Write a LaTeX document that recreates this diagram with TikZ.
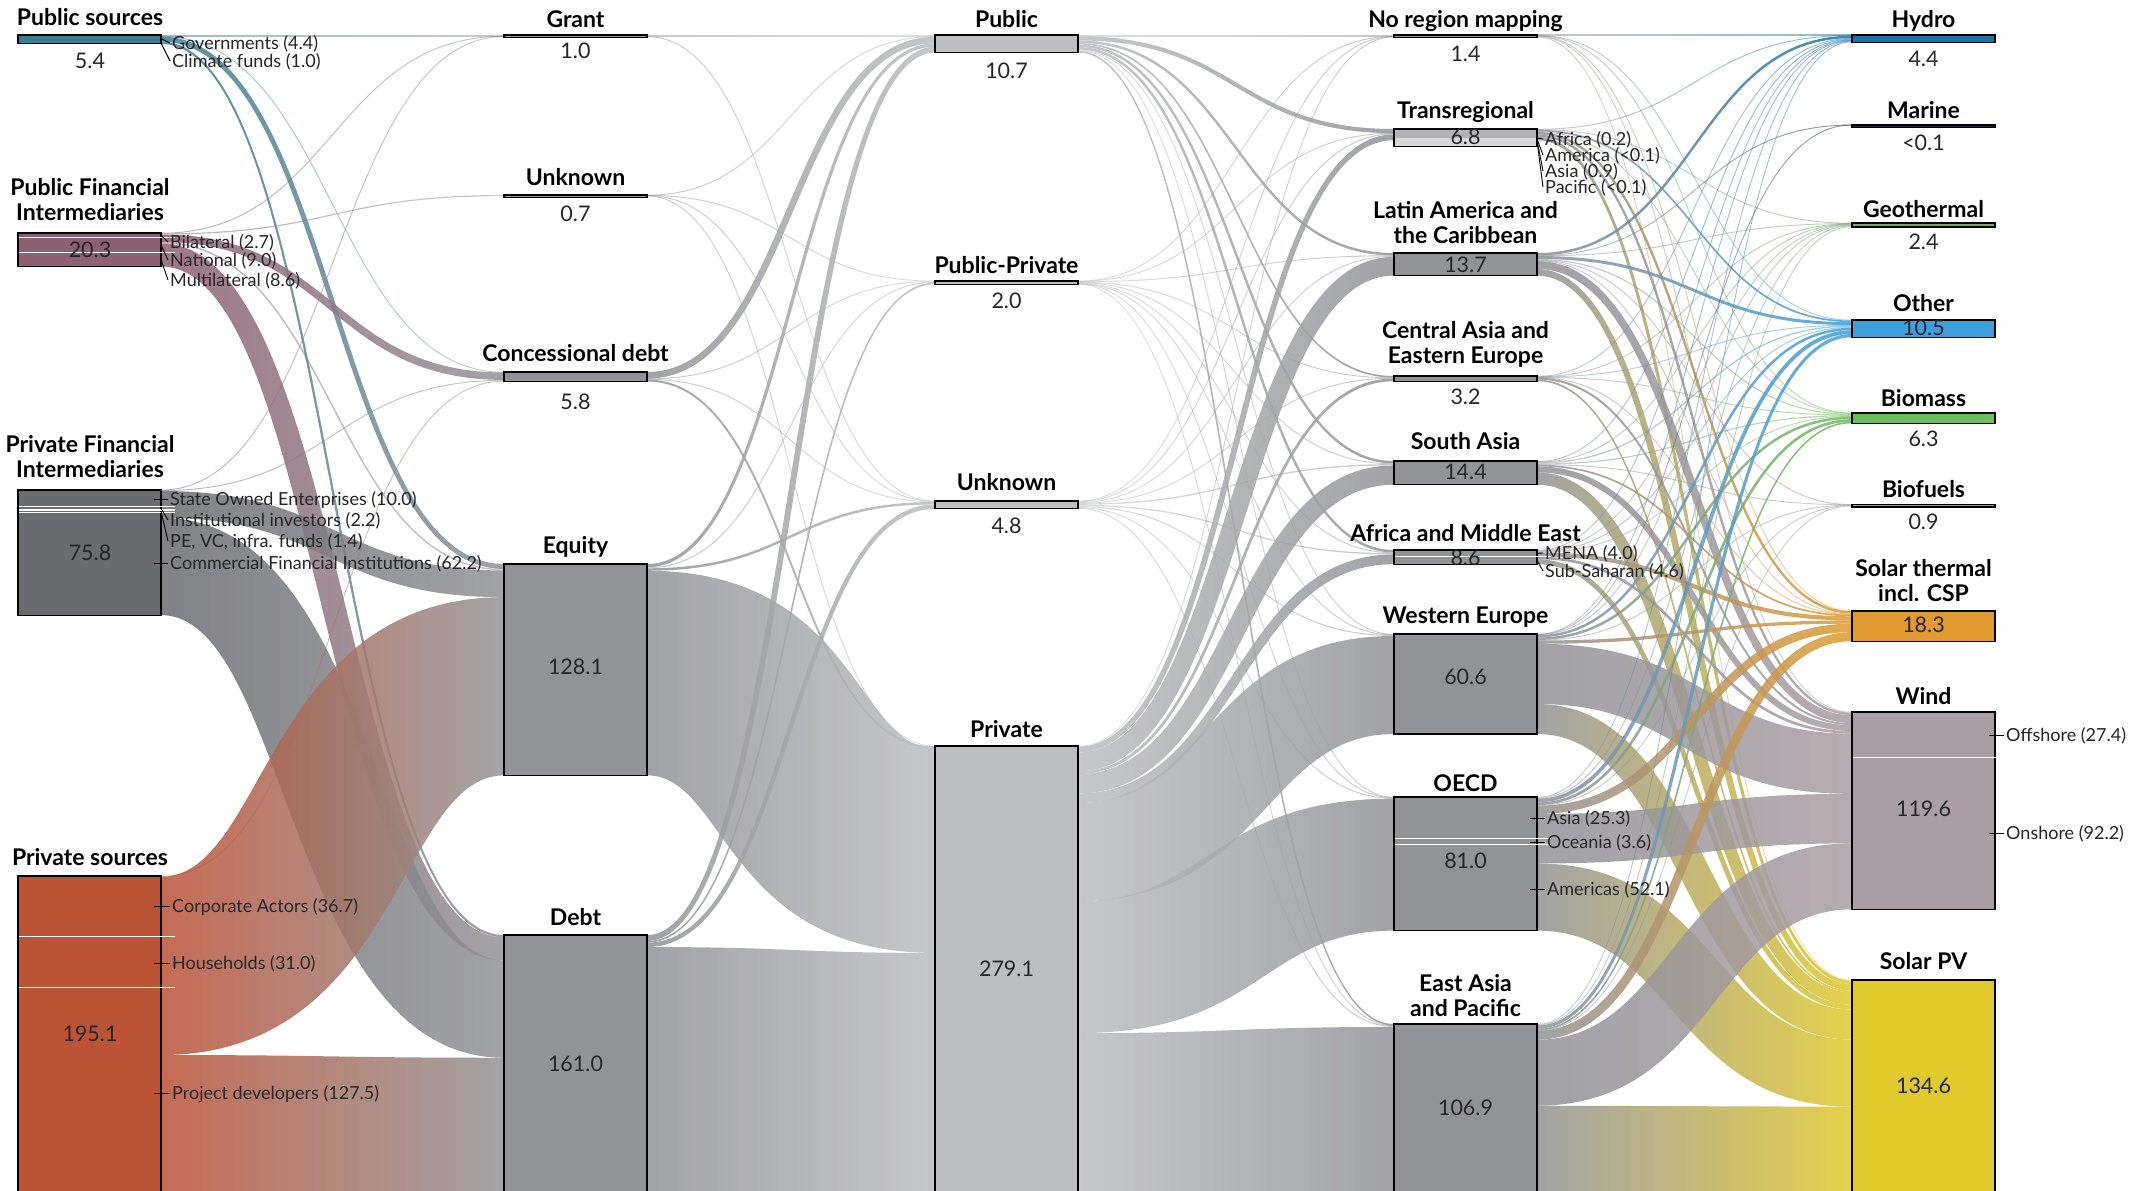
\documentclass[tikz,border=0pt]{standalone}
\usepackage{fontspec}
\setmainfont{Lato}
\usetikzlibrary{calc}
\pgfdeclarelayer{bg}
\pgfdeclarelayer{flows}
\pgfsetlayers{bg,flows,main}

\definecolor{cPub}{HTML}{3F7E90}
\definecolor{cPFI}{HTML}{8D6172}
\definecolor{cPFN}{HTML}{6B6C70}
\definecolor{cPRS}{HTML}{BC5335}
\definecolor{gTwo}{HTML}{929397}
\definecolor{gThree}{HTML}{BDBEC0}
\definecolor{gFour}{HTML}{929397}
\definecolor{cHydro}{HTML}{1B75A9}
\definecolor{cMarine}{HTML}{1E2A3A}
\definecolor{cGeo}{HTML}{7DA770}
\definecolor{cOther}{HTML}{3DA0DC}
\definecolor{cBiomass}{HTML}{6DBE5D}
\definecolor{cBiofuel}{HTML}{9B9B9B}
\definecolor{cSolTh}{HTML}{E09A2F}
\definecolor{cWind}{HTML}{A99EA3}
\definecolor{cPV}{HTML}{E2C92C}

% value-to-length scale (pt per bn USD)
\newcommand\FK{1.65}
% global key/value store
\newcommand\sv[3]{\expandafter\xdef\csname#1@#2\endcsname{#3}}
\newcommand\nv[2]{\csname#1@#2\endcsname}

% box: name, x-left, top, value, fill, outgoing flow colour, incoming flow colour
\newcommand\mkbox[7]{%
  \sv{XL}{#1}{#2}%
  \sv{XR}{#1}{\fpeval{#2+143}}%
  \sv{TP}{#1}{#3}%
  \sv{OO}{#1}{0}\sv{IO}{#1}{0}%
  \sv{CO}{#1}{#6}\sv{CI}{#1}{#7}%
  \edef\bxH{\fpeval{max(#4*\FK,2.5)}}%
  \node[box, fill=#5, minimum height=\bxH pt, anchor=north west] (#1) at (#2,#3) {};%
}

% ribbon from the right side of one box to the left side of another,
% stacked under the ribbons already attached to either box
\newcommand\fflow[3]{%
  \edef\flW{\fpeval{\nv{XL}{#2}-\nv{XR}{#1}}}%
  \edef\flH{\fpeval{#3*\FK}}%
  \edef\flT{\fpeval{max(\flH,0.9)}}%
  \edef\flA{\nv{OO}{#1}}\edef\flB{\nv{IO}{#2}}%
  \edef\flYa{\fpeval{\nv{TP}{#1}+\flA+\flH/2}}%
  \edef\flYb{\fpeval{\nv{TP}{#2}+\flB+\flH/2}}%
  \edef\flS{\fpeval{2*(\flYb-\flYa)/\flW}}%
  \edef\flD{\fpeval{(\flT/2)*\flS/(1+sqrt(1+\flS*\flS))*4/3}}%
  \edef\flUa{\fpeval{round(-(\flA+\flH/2-\flT/2),3)}}%
  \edef\flLa{\fpeval{round(-(\flA+\flH/2+\flT/2),3)}}%
  \edef\flUb{\fpeval{round(-(\flB+\flH/2-\flT/2),3)}}%
  \edef\flLb{\fpeval{round(-(\flB+\flH/2+\flT/2),3)}}%
  \edef\flCuA{\fpeval{round(\flW/2+\flD,3)}}%
  \edef\flClA{\fpeval{round(\flW/2-\flD,3)}}%
  \edef\flCuB{\fpeval{round(-\flW/2+\flD,3)}}%
  \edef\flClB{\fpeval{round(-\flW/2-\flD,3)}}%
  \edef\flO{\fpeval{#3<1 ? 0.5 : 0.85}}%
  \edef\flCa{\nv{CO}{#1}}\edef\flCb{\nv{CI}{#2}}%
  \begin{pgfonlayer}{flows}
  \shade[left color=\flCa, right color=\flCb, fill opacity=\flO]
    ([yshift=\flUa pt]#1.north east)
      .. controls ([xshift=\flCuA pt,yshift=\flUa pt]#1.north east)
      and ([xshift=\flCuB pt,yshift=\flUb pt]#2.north west)
      .. ([yshift=\flUb pt]#2.north west)
    -- ([yshift=\flLb pt]#2.north west)
      .. controls ([xshift=\flClB pt,yshift=\flLb pt]#2.north west)
      and ([xshift=\flClA pt,yshift=\flLa pt]#1.north east)
      .. ([yshift=\flLa pt]#1.north east) -- cycle;
  \end{pgfonlayer}%
  \sv{OO}{#1}{\fpeval{\flA+\flH}}\sv{IO}{#2}{\fpeval{\flB+\flH}}%
}
% all ribbons leaving one box: source, {target/value, ...}
\newcommand\fflows[2]{%
  \foreach \tgt/\amt in {#2} {\edef\flNext{\noexpand\fflow{#1}{\tgt}{\amt}}\flNext}%
}

\begin{document}
\begin{tikzpicture}[x=1pt,y=-1pt,
  box/.style={draw=black,line width=1.1pt,minimum width=143pt,inner sep=0pt,outer sep=0pt},
  ttl/.style={font=\fontsize{23}{25}\selectfont\bfseries,inner sep=0pt,text height=16.5pt,text depth=0pt},
  ttltwo/.style={font=\fontsize{23}{25}\selectfont\bfseries,inner sep=0pt,align=center},
  val/.style={font=\fontsize{21.5}{22}\selectfont,text=black!85,inner sep=0pt,text height=15.5pt,text depth=0pt},
  sub/.style={font=\fontsize{18}{18}\selectfont,text=black!85,inner sep=0pt,anchor=west,text height=13pt,text depth=0pt},
  tick/.style={draw=black,line width=0.9pt},
  sep/.style={draw=white,line width=1.4pt}]

\begin{pgfonlayer}{bg}
  \fill[white] (0,0) rectangle (2153,1191);
\end{pgfonlayer}

% ---- boxes ----
% sources
\mkbox{psrc}{18}{35}{5.4}{cPub}{cPub}{cPub}
\mkbox{pfi}{18}{233}{20.3}{cPFI}{cPFI}{cPFI}
\mkbox{pfin}{18}{490}{75.8}{cPFN}{cPFN}{cPFN}
\mkbox{prsrc}{18}{876}{195.1}{cPRS}{cPRS}{cPRS}
% instruments
\mkbox{grant}{504}{35}{1.0}{gTwo}{gTwo}{gTwo}
\mkbox{unktwo}{504}{195}{0.7}{gTwo}{gTwo}{gTwo}
\mkbox{conc}{504}{372}{5.8}{gTwo}{gTwo}{gTwo}
\mkbox{equity}{504}{564}{128.1}{gTwo}{gTwo}{gTwo}
\mkbox{debt}{504}{935}{161.0}{gTwo}{gTwo}{gTwo}
% public / private
\mkbox{pub}{935}{35}{10.7}{gThree}{gThree}{gThree}
\mkbox{pubpriv}{935}{281}{2.0}{gThree}{gThree}{gThree}
\mkbox{unkthree}{935}{501}{4.8}{gThree}{gThree}{gThree}
\mkbox{priv}{935}{746}{279.1}{gThree}{gThree}{gThree}
% regions
\mkbox{noreg}{1394}{35}{1.4}{gFour}{gFour}{gFour}
\mkbox{trans}{1394}{129}{10.4}{gFour!70}{gFour}{gFour}
\mkbox{latam}{1394}{253}{13.7}{gFour}{gFour}{gFour}
\mkbox{caee}{1394}{376}{3.2}{gFour}{gFour}{gFour}
\mkbox{sasia}{1394}{461}{14.4}{gFour}{gFour}{gFour}
\mkbox{ame}{1394}{550}{8.6}{gFour}{gFour}{gFour}
\mkbox{weur}{1394}{634}{60.6}{gFour}{gFour}{gFour}
\mkbox{oecd}{1394}{797}{81.0}{gFour}{gFour}{gFour}
\mkbox{eap}{1394}{1024}{106.9}{gFour}{gFour}{gFour}
% technologies
\mkbox{hydro}{1852}{35}{4.4}{cHydro}{cHydro}{cHydro}
\mkbox{marine}{1852}{125}{0.05}{cMarine}{cMarine}{cMarine}
\mkbox{geo}{1852}{223}{2.4}{cGeo}{cGeo}{cGeo}
\mkbox{other}{1852}{320}{10.5}{cOther}{cOther}{cOther}
\mkbox{biomass}{1852}{413}{6.3}{cBiomass}{cBiomass}{cBiomass}
\mkbox{biofuel}{1852}{504.5}{0.9}{cBiofuel}{cBiofuel}{cBiofuel}
\mkbox{solth}{1852}{611}{18.3}{cSolTh}{cSolTh}{cSolTh}
\mkbox{wind}{1852}{712}{119.6}{cWind}{cWind}{cWind}
\mkbox{pv}{1852}{980}{134.6}{cPV}{cPV}{cPV}

% light lower half of the transregional box
\fill[gThree!60] ([xshift=0.6pt,yshift=-9pt]trans.north west) rectangle ([xshift=-0.6pt,yshift=0.6pt]trans.south east);

% ---- flows: sources -> instruments ----
\fflows{psrc}{grant/0.7, conc/0.3, equity/3.0, debt/1.4}
\fflows{pfi}{grant/0.2, unktwo/0.7, conc/4.5, equity/0.9, debt/14.0}
\fflows{pfin}{grant/0.1, conc/0.5, equity/16.2, debt/59.0}
\fflows{prsrc}{conc/0.5, equity/108.0, debt/86.6}
% ---- instruments -> public / private ----
\fflows{grant}{pub/0.9, unkthree/0.1}
\fflows{unktwo}{pub/0.2, pubpriv/0.1, unkthree/0.2, priv/0.2}
\fflows{conc}{pub/4.0, pubpriv/0.3, unkthree/0.3, priv/1.2}
\fflows{equity}{pub/2.0, pubpriv/0.6, unkthree/1.5, priv/124.0}
\fflows{debt}{pub/3.6, pubpriv/1.0, unkthree/2.7, priv/153.7}
% ---- public / private -> regions ----
\fflows{pub}{noreg/0.8, trans/2.5, latam/1.5, caee/1.0, sasia/1.5, ame/1.5, weur/0.5, oecd/0.4, eap/1.0}
\fflows{pubpriv}{noreg/0.1, trans/0.2, latam/0.3, caee/0.2, sasia/0.4, ame/0.4, weur/0.1, oecd/0.1, eap/0.2}
\fflows{unkthree}{noreg/0.1, trans/0.6, latam/0.5, caee/0.3, sasia/0.8, ame/0.8, weur/0.6, oecd/0.5, eap/0.6}
\fflows{priv}{noreg/0.4, trans/3.5, latam/11.4, caee/1.7, sasia/11.7, ame/5.9, weur/59.4, oecd/80.0, eap/105.1}
% ---- regions -> technologies ----
\fflows{noreg}{hydro/0.1, other/0.3, biomass/0.1, solth/0.1, wind/0.4, pv/0.4}
\fflows{trans}{hydro/0.3, geo/0.2, other/1.0, biomass/0.3, solth/1.5, wind/1.5, pv/2.0}
\fflows{latam}{hydro/1.5, marine/0.02, geo/0.3, other/1.8, biomass/0.7, biofuel/0.1, solth/0.5, wind/4.8, pv/4.0}
\fflows{caee}{hydro/0.4, geo/0.1, other/0.2, biomass/0.2, solth/0.1, wind/1.2, pv/1.0}
\fflows{sasia}{hydro/0.6, geo/0.1, other/0.8, biomass/0.7, biofuel/0.1, solth/1.0, wind/3.6, pv/7.5}
\fflows{ame}{hydro/0.3, geo/0.4, other/0.6, biomass/0.2, solth/2.5, wind/1.6, pv/3.0}
\fflows{weur}{hydro/0.3, marine/0.02, geo/0.3, other/1.5, biomass/1.5, biofuel/0.3, solth/2.0, wind/36.5, pv/18.2}
\fflows{oecd}{hydro/0.4, geo/0.6, other/2.3, biomass/1.6, biofuel/0.3, solth/5.1, wind/30.0, pv/40.7}
\fflows{eap}{hydro/0.5, geo/0.4, other/2.0, biomass/1.0, biofuel/0.1, solth/5.5, wind/40.0, pv/57.4}

% ---- white seams between sub-categories ----
\foreach \b/\o in {pfi/4.5, pfi/19.3, pfin/16.5, pfin/20.1, pfin/22.4, prsrc/60.6, prsrc/111.7,
                   ame/6.6, oecd/41.7, oecd/47.7, wind/45.2}
  \draw[sep] ([xshift=1pt,yshift=-\o pt]\b.north west) -- ([xshift=14pt,yshift=-\o pt]\b.north east);

% ---- titles ----
\node[ttl] (t-psrc) at (90,17) {Public sources};
\node[ttltwo] (t-pfi) at (90,200) {Public Financial\\Intermediaries};
\node[ttltwo] (t-pfin) at (90,457) {Private Financial\\Intermediaries};
\node[ttl] (t-prsrc) at (90,857) {Private sources};
\node[ttl] (t-grant) at (575.5,19) {Grant};
\node[ttl] (t-unktwo) at (575.5,177) {Unknown};
\node[ttl] (t-conc) at (575.5,353) {Concessional debt};
\node[ttl] (t-equity) at (575.5,545) {Equity};
\node[ttl] (t-debt) at (575.5,917) {Debt};
\node[ttl] (t-pub) at (1006.5,19) {Public};
\node[ttl] (t-pubpriv) at (1006.5,265) {Public-Private};
\node[ttl] (t-unkthree) at (1006.5,482) {Unknown};
\node[ttl] (t-priv) at (1006.5,729) {Private};
\node[ttl] (t-noreg) at (1465.5,19) {No region mapping};
\node[ttl] (t-trans) at (1465.5,110) {Transregional};
\node[ttltwo] (t-latam) at (1465.5,222.5) {Latin America and\\the Caribbean};
\node[ttltwo] (t-caee) at (1465.5,344) {Central Asia and\\Eastern Europe};
\node[ttl] (t-sasia) at (1465.5,441) {South Asia};
\node[ttl] (t-ame) at (1465.5,533) {Africa and Middle East};
\node[ttl] (t-weur) at (1465.5,615) {Western Europe};
\node[ttl] (t-oecd) at (1465.5,783) {OECD};
\node[ttltwo] (t-eap) at (1465.5,995.5) {East Asia\\and Pacific};
\node[ttl] (t-hydro) at (1923.5,19) {Hydro};
\node[ttl] (t-marine) at (1923.5,110) {Marine};
\node[ttl] (t-geo) at (1923.5,209) {Geothermal};
\node[ttl] (t-other) at (1923.5,303) {Other};
\node[ttl] (t-biomass) at (1923.5,398) {Biomass};
\node[ttl] (t-biofuel) at (1923.5,489) {Biofuels};
\node[ttltwo] (t-solth) at (1923.5,580.5) {Solar thermal\\incl. CSP};
\node[ttl] (t-wind) at (1923.5,696) {Wind};
\node[ttl] (t-pv) at (1923.5,961) {Solar PV};

% ---- values ----
\node[val] (v-psrc) at (90,61) {5.4};
\node[val] (v-pfi) at (90,250) {20.3};
\node[val] (v-pfin) at (90,553) {75.8};
\node[val] (v-prsrc) at (90,1034) {195.1};
\node[val] (v-grant) at (575.5,51) {1.0};
\node[val] (v-unktwo) at (575.5,214) {0.7};
\node[val] (v-conc) at (575.5,402) {5.8};
\node[val] (v-equity) at (575.5,667) {128.1};
\node[val] (v-debt) at (575.5,1064) {161.0};
\node[val] (v-pub) at (1006.5,71) {10.7};
\node[val] (v-pubpriv) at (1006.5,301) {2.0};
\node[val] (v-unkthree) at (1006.5,526) {4.8};
\node[val] (v-priv) at (1006.5,969) {279.1};
\node[val] (v-noreg) at (1465.5,54) {1.4};
\node[val] (v-trans) at (1465.5,137) {6.8};
\node[val] (v-latam) at (1465.5,265) {13.7};
\node[val] (v-caee) at (1465.5,397) {3.2};
\node[val] (v-sasia) at (1465.5,472) {14.4};
\node[val] (v-ame) at (1465.5,558) {8.6};
\node[val] (v-weur) at (1465.5,677) {60.6};
\node[val] (v-oecd) at (1465.5,861) {81.0};
\node[val] (v-eap) at (1465.5,1108) {106.9};
\node[val] (v-hydro) at (1923.5,59) {4.4};
\node[val] (v-marine) at (1923.5,143) {<0.1};
\node[val] (v-geo) at (1923.5,242) {2.4};
\node[val] (v-other) at (1923.5,328) {10.5};
\node[val] (v-biomass) at (1923.5,439) {6.3};
\node[val] (v-biofuel) at (1923.5,522) {0.9};
\node[val] (v-solth) at (1923.5,625) {18.3};
\node[val] (v-wind) at (1923.5,809) {119.6};
\node[val] (v-pv) at (1923.5,1086) {134.6};

% ---- sub-category labels ----
\node[sub] (s-gov) at (172,43) {Governments (4.4)};
\node[sub] (s-clim) at (172,61) {Climate funds (1.0)};
\draw[tick] ([yshift=-3.6pt]psrc.north east) -- ([xshift=-2pt]s-gov.west);
\draw[tick] ([yshift=-8pt]psrc.north east) -- ([xshift=-2pt]s-clim.west);

\node[sub] (s-bil) at (170,242) {Bilateral (2.7)};
\node[sub] (s-nat) at (170,260) {National (9.0)};
\node[sub] (s-mul) at (170,280) {Multilateral (8.6)};
\draw[tick] ([yshift=-2.2pt]pfi.north east) -- ([xshift=-2pt]s-bil.west);
\draw[tick] ([yshift=-11.9pt]pfi.north east) -- ([xshift=-2pt]s-nat.west);
\draw[tick] ([yshift=-26.4pt]pfi.north east) -- ([xshift=-2pt]s-mul.west);

\node[sub] (s-soe) at (170,499) {State Owned Enterprises (10.0)};
\node[sub] (s-ins) at (170,520) {Institutional investors (2.2)};
\node[sub] (s-pe) at (170,541) {PE, VC, infra. funds (1.4)};
\node[sub] (s-cfi) at (170,563) {Commercial Financial Institutions (62.2)};
\draw[tick] ($(s-soe.west -| pfin.east)+(-7,0)$) -- ([xshift=-2pt]s-soe.west);
\draw[tick] ([yshift=-18.3pt]pfin.north east) -- ([xshift=-2pt]s-ins.west);
\draw[tick] ([yshift=-21.3pt]pfin.north east) -- ([xshift=-2pt]s-pe.west);
\draw[tick] ($(s-cfi.west -| pfin.east)+(-7,0)$) -- ([xshift=-2pt]s-cfi.west);

\node[sub] (s-corp) at (172,906) {Corporate Actors (36.7)};
\node[sub] (s-hh) at (172,963) {Households (31.0)};
\node[sub] (s-pd) at (172,1093) {Project developers (127.5)};
\foreach \s in {s-corp, s-hh, s-pd}
  \draw[tick] ($(\s.west -| prsrc.east)+(-7,0)$) -- ([xshift=-2pt]\s.west);

\node[sub] (s-afr) at (1545,139) {Africa (0.2)};
\node[sub] (s-ame) at (1545,155) {America (<0.1)};
\node[sub] (s-asi) at (1545,171) {Asia (0.9)};
\node[sub] (s-pac) at (1545,187) {Pacific (<0.1)};
\draw[tick] ([yshift=-9pt]trans.north east) -- ([xshift=-2pt]s-afr.west);
\draw[tick] ([yshift=-10pt]trans.north east) -- ([xshift=-2pt]s-ame.west);
\draw[tick] ([yshift=-11pt]trans.north east) -- ([xshift=-2pt]s-asi.west);
\draw[tick] ([yshift=-12pt]trans.north east) -- ([xshift=-2pt]s-pac.west);

\node[sub] (s-mena) at (1545,553) {MENA (4.0)};
\node[sub] (s-ssa) at (1545,571) {Sub-Saharan (4.6)};
\draw[tick] ([yshift=-3.3pt]ame.north east) -- ([xshift=-2pt]s-mena.west);
\draw[tick] ([yshift=-10.4pt]ame.north east) -- ([xshift=-2pt]s-ssa.west);

\node[sub] (s-oas) at (1547,818) {Asia (25.3)};
\node[sub] (s-oce) at (1547,842) {Oceania (3.6)};
\node[sub] (s-oam) at (1547,889) {Americas (52.1)};
\foreach \s in {s-oas, s-oce, s-oam}
  \draw[tick] ($(\s.west -| oecd.east)+(-7,0)$) -- ([xshift=-2pt]\s.west);

\node[sub] (s-off) at (2006,735) {Offshore (27.4)};
\node[sub] (s-on) at (2006,833) {Onshore (92.2)};
\foreach \s in {s-off, s-on}
  \draw[tick] ($(\s.west -| wind.east)+(-6,0)$) -- ([xshift=-2pt]\s.west);

\pgfresetboundingbox
\useasboundingbox (0,0) rectangle (2153,1191);
\end{tikzpicture}
\end{document}
